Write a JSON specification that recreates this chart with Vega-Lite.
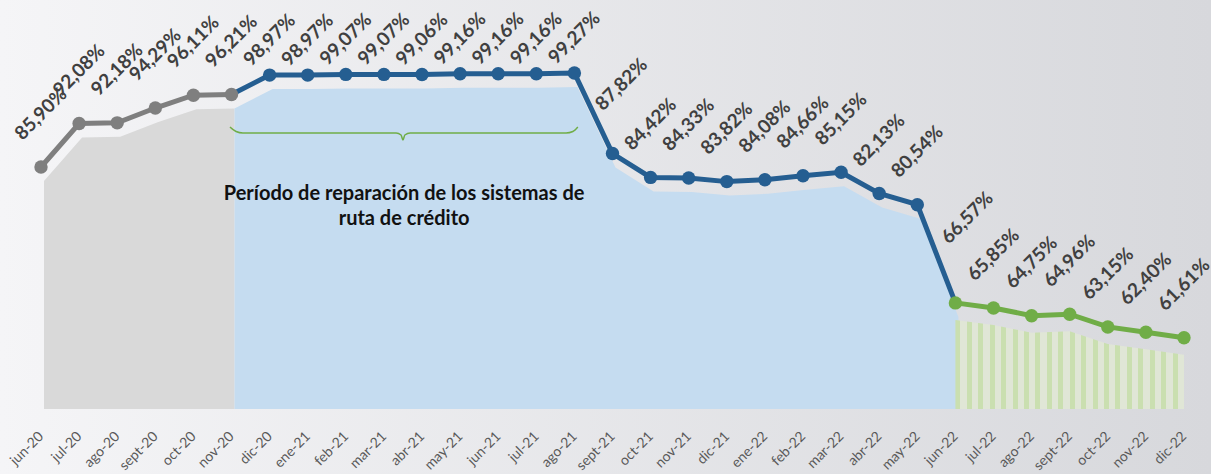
{
  "$schema": "https://vega.github.io/schema/vega-lite/v6.json",
  "width": 1211,
  "height": 474,
  "autosize": "none",
  "padding": 0,
  "background": "#e6e7ea",
  "config": {
    "view": {"stroke": null, "fill": {"gradient": "linear", "x1": 0, "y1": 0, "x2": 1, "y2": 0, "stops": [{"offset": 0, "color": "#f5f5f7"}, {"offset": 1, "color": "#d7d8dc"}]}},
    "locale": {"number": {"decimal": ",", "thousands": ".", "grouping": [3], "currency": ["", " €"]}}
  },
  "data": {"values": [
    {"idx": 0, "month": "jun-20", "v": 0.8590, "seg": "g"},
    {"idx": 1, "month": "jul-20", "v": 0.9208, "seg": "g"},
    {"idx": 2, "month": "ago-20", "v": 0.9218, "seg": "g"},
    {"idx": 3, "month": "sept-20", "v": 0.9429, "seg": "g"},
    {"idx": 4, "month": "oct-20", "v": 0.9611, "seg": "g"},
    {"idx": 5, "month": "nov-20", "v": 0.9621, "seg": "g"},
    {"idx": 6, "month": "dic-20", "v": 0.9897, "seg": "b"},
    {"idx": 7, "month": "ene-21", "v": 0.9897, "seg": "b"},
    {"idx": 8, "month": "feb-21", "v": 0.9907, "seg": "b"},
    {"idx": 9, "month": "mar-21", "v": 0.9907, "seg": "b"},
    {"idx": 10, "month": "abr-21", "v": 0.9906, "seg": "b"},
    {"idx": 11, "month": "may-21", "v": 0.9916, "seg": "b"},
    {"idx": 12, "month": "jun-21", "v": 0.9916, "seg": "b"},
    {"idx": 13, "month": "jul-21", "v": 0.9916, "seg": "b"},
    {"idx": 14, "month": "ago-21", "v": 0.9927, "seg": "b"},
    {"idx": 15, "month": "sept-21", "v": 0.8782, "seg": "b"},
    {"idx": 16, "month": "oct-21", "v": 0.8442, "seg": "b"},
    {"idx": 17, "month": "nov-21", "v": 0.8433, "seg": "b"},
    {"idx": 18, "month": "dic-21", "v": 0.8382, "seg": "b"},
    {"idx": 19, "month": "ene-22", "v": 0.8408, "seg": "b"},
    {"idx": 20, "month": "feb-22", "v": 0.8466, "seg": "b"},
    {"idx": 21, "month": "mar-22", "v": 0.8515, "seg": "b"},
    {"idx": 22, "month": "abr-22", "v": 0.8213, "seg": "b"},
    {"idx": 23, "month": "may-22", "v": 0.8054, "seg": "b"},
    {"idx": 24, "month": "jun-22", "v": 0.6657, "seg": "v"},
    {"idx": 25, "month": "jul-22", "v": 0.6585, "seg": "v"},
    {"idx": 26, "month": "ago-22", "v": 0.6475, "seg": "v"},
    {"idx": 27, "month": "sept-22", "v": 0.6496, "seg": "v"},
    {"idx": 28, "month": "oct-22", "v": 0.6315, "seg": "v"},
    {"idx": 29, "month": "nov-22", "v": 0.6240, "seg": "v"},
    {"idx": 30, "month": "dic-22", "v": 0.6161, "seg": "v"}
  ]},
  "encoding": {
    "x": {"field": "idx", "type": "quantitative",
      "scale": {"domain": [-1.0761, 30.7087], "nice": false, "zero": false},
      "axis": {"values": [0,1,2,3,4,5,6,7,8,9,10,11,12,13,14,15,16,17,18,19,20,21,22,23,24,25,26,27,28,29,30],
        "labelExpr": "['jun-20','jul-20','ago-20','sept-20','oct-20','nov-20','dic-20','ene-21','feb-21','mar-21','abr-21','may-21','jun-21','jul-21','ago-21','sept-21','oct-21','nov-21','dic-21','ene-22','feb-22','mar-22','abr-22','may-22','jun-22','jul-22','ago-22','sept-22','oct-22','nov-22','dic-22'][datum.value]",
        "title": null, "grid": false, "ticks": false, "domain": false, "offset": -55,
        "labelAngle": -45, "labelAlign": "right", "labelBaseline": "middle", "labelPadding": 15,
        "labelFont": "Lato", "labelFontSize": 14, "labelColor": "#595959",
        "labelOverlap": false, "labelBound": false, "labelFlush": false}},
    "y": {"field": "v", "type": "quantitative",
      "scale": {"domain": [0.42229, 1.09654], "nice": false, "zero": false}, "axis": null}
  },
  "layer": [
    {"transform": [{"filter": "datum.idx <= 5"}],
     "mark": {"type": "area", "color": "#d9d9d9", "xOffset": 3, "yOffset": 14},
     "encoding": {"y2": {"datum": 0.5147}}},
    {"transform": [{"filter": "datum.idx >= 5 && datum.idx <= 24"}],
     "mark": {"type": "area", "color": "#c5dcf0", "xOffset": 3, "yOffset": 14},
     "encoding": {"y2": {"datum": 0.5147}}},
    {"transform": [{"filter": "datum.idx >= 24"}],
     "mark": {"type": "area", "yOffset": 17, "fill": {"gradient": "linear", "x1": 0, "y1": 0, "x2": 1, "y2": 0, "stops": [
       {"offset": 0, "color": "#cadfb0"}, {"offset": 0.022, "color": "#cadfb0"}, {"offset": 0.022, "color": "#e0e6d6"}, {"offset": 0.05, "color": "#e0e6d6"},
       {"offset": 0.05, "color": "#cadfb0"}, {"offset": 0.072, "color": "#cadfb0"}, {"offset": 0.072, "color": "#e0e6d6"}, {"offset": 0.1, "color": "#e0e6d6"},
       {"offset": 0.1, "color": "#cadfb0"}, {"offset": 0.122, "color": "#cadfb0"}, {"offset": 0.122, "color": "#e0e6d6"}, {"offset": 0.15, "color": "#e0e6d6"},
       {"offset": 0.15, "color": "#cadfb0"}, {"offset": 0.172, "color": "#cadfb0"}, {"offset": 0.172, "color": "#e0e6d6"}, {"offset": 0.2, "color": "#e0e6d6"},
       {"offset": 0.2, "color": "#cadfb0"}, {"offset": 0.222, "color": "#cadfb0"}, {"offset": 0.222, "color": "#e0e6d6"}, {"offset": 0.25, "color": "#e0e6d6"},
       {"offset": 0.25, "color": "#cadfb0"}, {"offset": 0.272, "color": "#cadfb0"}, {"offset": 0.272, "color": "#e0e6d6"}, {"offset": 0.3, "color": "#e0e6d6"},
       {"offset": 0.3, "color": "#cadfb0"}, {"offset": 0.322, "color": "#cadfb0"}, {"offset": 0.322, "color": "#e0e6d6"}, {"offset": 0.35, "color": "#e0e6d6"},
       {"offset": 0.35, "color": "#cadfb0"}, {"offset": 0.372, "color": "#cadfb0"}, {"offset": 0.372, "color": "#e0e6d6"}, {"offset": 0.4, "color": "#e0e6d6"},
       {"offset": 0.4, "color": "#cadfb0"}, {"offset": 0.422, "color": "#cadfb0"}, {"offset": 0.422, "color": "#e0e6d6"}, {"offset": 0.45, "color": "#e0e6d6"},
       {"offset": 0.45, "color": "#cadfb0"}, {"offset": 0.472, "color": "#cadfb0"}, {"offset": 0.472, "color": "#e0e6d6"}, {"offset": 0.5, "color": "#e0e6d6"},
       {"offset": 0.5, "color": "#cadfb0"}, {"offset": 0.522, "color": "#cadfb0"}, {"offset": 0.522, "color": "#e0e6d6"}, {"offset": 0.55, "color": "#e0e6d6"},
       {"offset": 0.55, "color": "#cadfb0"}, {"offset": 0.572, "color": "#cadfb0"}, {"offset": 0.572, "color": "#e0e6d6"}, {"offset": 0.6, "color": "#e0e6d6"},
       {"offset": 0.6, "color": "#cadfb0"}, {"offset": 0.622, "color": "#cadfb0"}, {"offset": 0.622, "color": "#e0e6d6"}, {"offset": 0.65, "color": "#e0e6d6"},
       {"offset": 0.65, "color": "#cadfb0"}, {"offset": 0.672, "color": "#cadfb0"}, {"offset": 0.672, "color": "#e0e6d6"}, {"offset": 0.7, "color": "#e0e6d6"},
       {"offset": 0.7, "color": "#cadfb0"}, {"offset": 0.722, "color": "#cadfb0"}, {"offset": 0.722, "color": "#e0e6d6"}, {"offset": 0.75, "color": "#e0e6d6"},
       {"offset": 0.75, "color": "#cadfb0"}, {"offset": 0.772, "color": "#cadfb0"}, {"offset": 0.772, "color": "#e0e6d6"}, {"offset": 0.8, "color": "#e0e6d6"},
       {"offset": 0.8, "color": "#cadfb0"}, {"offset": 0.822, "color": "#cadfb0"}, {"offset": 0.822, "color": "#e0e6d6"}, {"offset": 0.85, "color": "#e0e6d6"},
       {"offset": 0.85, "color": "#cadfb0"}, {"offset": 0.872, "color": "#cadfb0"}, {"offset": 0.872, "color": "#e0e6d6"}, {"offset": 0.9, "color": "#e0e6d6"},
       {"offset": 0.9, "color": "#cadfb0"}, {"offset": 0.922, "color": "#cadfb0"}, {"offset": 0.922, "color": "#e0e6d6"}, {"offset": 0.95, "color": "#e0e6d6"},
       {"offset": 0.95, "color": "#cadfb0"}, {"offset": 0.972, "color": "#cadfb0"}, {"offset": 0.972, "color": "#e0e6d6"}, {"offset": 1, "color": "#e0e6d6"}
     ]}},
     "encoding": {"y2": {"datum": 0.5147}}},
    {"data": {"values": [{"axisline": "x"}]},
     "mark": {"type": "rule", "color": "#d4d4d7", "strokeWidth": 2},
     "encoding": {"x": {"datum": -0.47}, "x2": {"datum": 30.29}, "y": {"datum": 0.5}}},
    {"data": {"values": [
       {"o": 1, "bx": 4.96, "by": 0.9159},
       {"o": 2, "bx": 5.12, "by": 0.9095},
       {"o": 3, "bx": 5.30, "by": 0.9074},
       {"o": 4, "bx": 9.32, "by": 0.9074},
       {"o": 5, "bx": 9.45, "by": 0.9045},
       {"o": 6, "bx": 9.50, "by": 0.8974},
       {"o": 7, "bx": 9.55, "by": 0.9045},
       {"o": 8, "bx": 9.69, "by": 0.9074},
       {"o": 9, "bx": 13.78, "by": 0.9074},
       {"o": 10, "bx": 13.96, "by": 0.9095},
       {"o": 11, "bx": 14.09, "by": 0.9159}
     ]},
     "mark": {"type": "line", "color": "#70ad47", "strokeWidth": 1.5, "interpolate": "monotone"},
     "encoding": {"x": {"field": "bx", "type": "quantitative"}, "y": {"field": "by", "type": "quantitative"}, "order": {"field": "o", "type": "quantitative"}}},
    {"data": {"values": [{"note": "Período de reparación de los sistemas de\nruta de crédito", "nx": 9.53, "ny": 0.8199}]},
     "mark": {"type": "text", "lineBreak": "\n", "font": "Lato", "fontWeight": "bold", "fontSize": 20, "color": "#111111", "align": "center", "baseline": "middle", "lineHeight": 25},
     "encoding": {"x": {"field": "nx", "type": "quantitative"}, "y": {"field": "ny", "type": "quantitative"}, "text": {"field": "note", "type": "nominal"}}},
    {"transform": [{"filter": "datum.idx <= 5"}],
     "mark": {"type": "line", "color": "#7f7f7f", "strokeWidth": 5}, "encoding": {}},
    {"transform": [{"filter": "datum.idx >= 5 && datum.idx <= 24"}],
     "mark": {"type": "line", "color": "#255e91", "strokeWidth": 5}, "encoding": {}},
    {"transform": [{"filter": "datum.idx >= 24"}],
     "mark": {"type": "line", "color": "#70ad47", "strokeWidth": 5}, "encoding": {}},
    {"mark": {"type": "circle", "size": 180, "opacity": 1},
     "encoding": {"color": {"field": "seg", "type": "nominal", "scale": {"domain": ["g", "b", "v"], "range": ["#7f7f7f", "#255e91", "#70ad47"]}, "legend": null}}},
    {"transform": [{"filter": "datum.idx <= 5 || (datum.idx >= 16 && datum.idx <= 23) || datum.idx >= 25"}],
     "mark": {"type": "text", "angle": -45, "align": "center", "baseline": "middle", "font": "Lato", "fontWeight": "bold", "fontSize": 19, "color": "#404040", "yOffset": -53},
     "encoding": {"text": {"field": "v", "type": "quantitative", "format": ".2%"}}},
    {"transform": [{"filter": "datum.idx >= 6 && datum.idx <= 14"}],
     "mark": {"type": "text", "angle": -45, "align": "center", "baseline": "middle", "font": "Lato", "fontWeight": "bold", "fontSize": 19, "color": "#404040", "yOffset": -35},
     "encoding": {"text": {"field": "v", "type": "quantitative", "format": ".2%"}}},
    {"transform": [{"filter": "datum.idx == 15"}],
     "mark": {"type": "text", "angle": -45, "align": "center", "baseline": "middle", "font": "Lato", "fontWeight": "bold", "fontSize": 19, "color": "#404040", "yOffset": -69, "xOffset": 9},
     "encoding": {"text": {"field": "v", "type": "quantitative", "format": ".2%"}}},
    {"transform": [{"filter": "datum.idx == 24"}],
     "mark": {"type": "text", "angle": -45, "align": "center", "baseline": "middle", "font": "Lato", "fontWeight": "bold", "fontSize": 19, "color": "#404040", "yOffset": -85, "xOffset": 12},
     "encoding": {"text": {"field": "v", "type": "quantitative", "format": ".2%"}}}
  ]
}
